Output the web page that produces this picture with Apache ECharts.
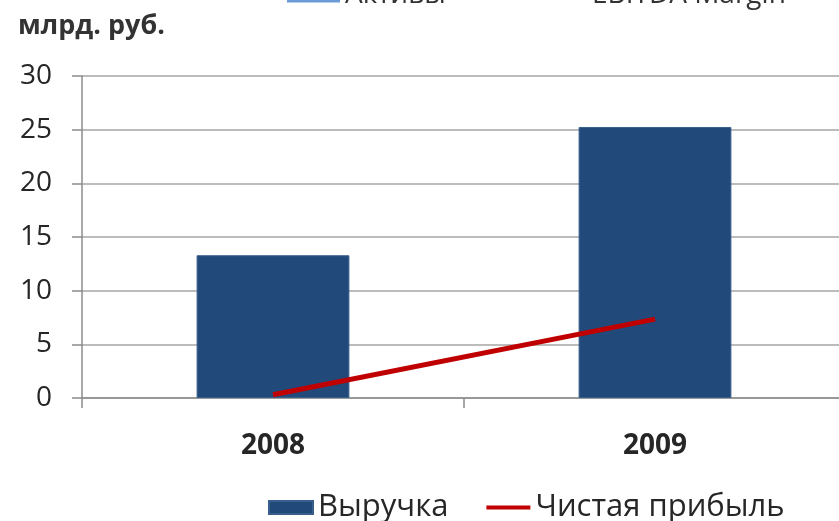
<!DOCTYPE html>
<html>
<head>
<meta charset="utf-8">
<script src="https://cdn.jsdelivr.net/npm/echarts@6/dist/echarts.min.js"></script>
<style>
  html, body { margin: 0; padding: 0; background: #fff; overflow: hidden; }
  /* the original picture is cropped on the right, so the chart runs a bit past the window */
  #chart { width: 846px; height: 521px; }
</style>
</head>
<body>
<div id="chart"></div>
<script>
// Data
const years = ['2008', '2009'];
const revenue = [13.3, 25.25];
const netProfit = [0.3, 7.35];
const yTicks = { min: 0, max: 30, step: 5 };

const font = '"Open Sans", "Noto Sans", sans-serif';
const chart = echarts.init(document.getElementById('chart'));

chart.setOption({
    backgroundColor: '#fff',
    animation: false,
    textStyle: { fontFamily: font },
    grid: { left: 82, top: 76, right: 0, height: 322 },
    title: {
        text: 'млрд. руб.', left: 13, top: 8,
        textStyle: { fontSize: 27, fontWeight: 'bold', color: '#333', fontFamily: font }
    },
    graphic: [
        // cut-off legend from above the crop
        { type: 'line', shape: { x1: 287, y1: 1, x2: 340, y2: 1 }, style: { stroke: '#6a9bd8', lineWidth: 3 } },
        { type: 'text', left: 345, top: -19, style: { text: 'Активы', fontSize: 28, fill: '#333', fontFamily: font } },
        { type: 'text', left: 592, top: -19, style: { text: 'EBITDA Margin', fontSize: 28, fill: '#333', fontFamily: font } }
    ],
    legend: {
        left: 263, top: 487,
        itemWidth: 44, itemHeight: 13, itemGap: 38,
        symbolKeepAspect: true,
        textStyle: { fontSize: 31, color: '#262626', fontFamily: font },
        data: [
            { name: 'Выручка', icon: 'rect' },
            { name: 'Чистая прибыль', icon: 'path://M0,0H44V4H0Z', itemStyle: { color: '#c00000' } }
        ]
    },
    xAxis: {
        type: 'category',
        data: years,
        axisLine: { lineStyle: { color: '#8c8c8c', width: 1.5 } },
        axisTick: { show: true, length: 10, lineStyle: { color: '#8c8c8c', width: 1.5 } },
        axisLabel: { margin: 34, fontSize: 28, fontWeight: 'bold', color: '#262626' }
    },
    yAxis: {
        type: 'value',
        min: yTicks.min, max: yTicks.max, interval: yTicks.step,
        axisLine: { show: true, lineStyle: { color: '#8c8c8c', width: 1.5 } },
        axisTick: { show: true, length: 10, lineStyle: { color: '#8c8c8c', width: 1.5 } },
        axisLabel: { margin: 30, fontSize: 28, color: '#262626' },
        splitLine: { lineStyle: { color: '#a6a6a6', width: 1.5 } }
    },
    series: [
        {
            name: 'Выручка', type: 'bar', data: revenue, barWidth: '40%',
            itemStyle: { color: '#214a7b', borderColor: '#3b5f8c', borderWidth: 1 }
        },
        {
            name: 'Чистая прибыль', type: 'line', data: netProfit,
            symbol: 'none', lineStyle: { color: '#c00000', width: 5 },
            itemStyle: { color: '#c00000' }
        }
    ]
});
</script>
</body>
</html>
